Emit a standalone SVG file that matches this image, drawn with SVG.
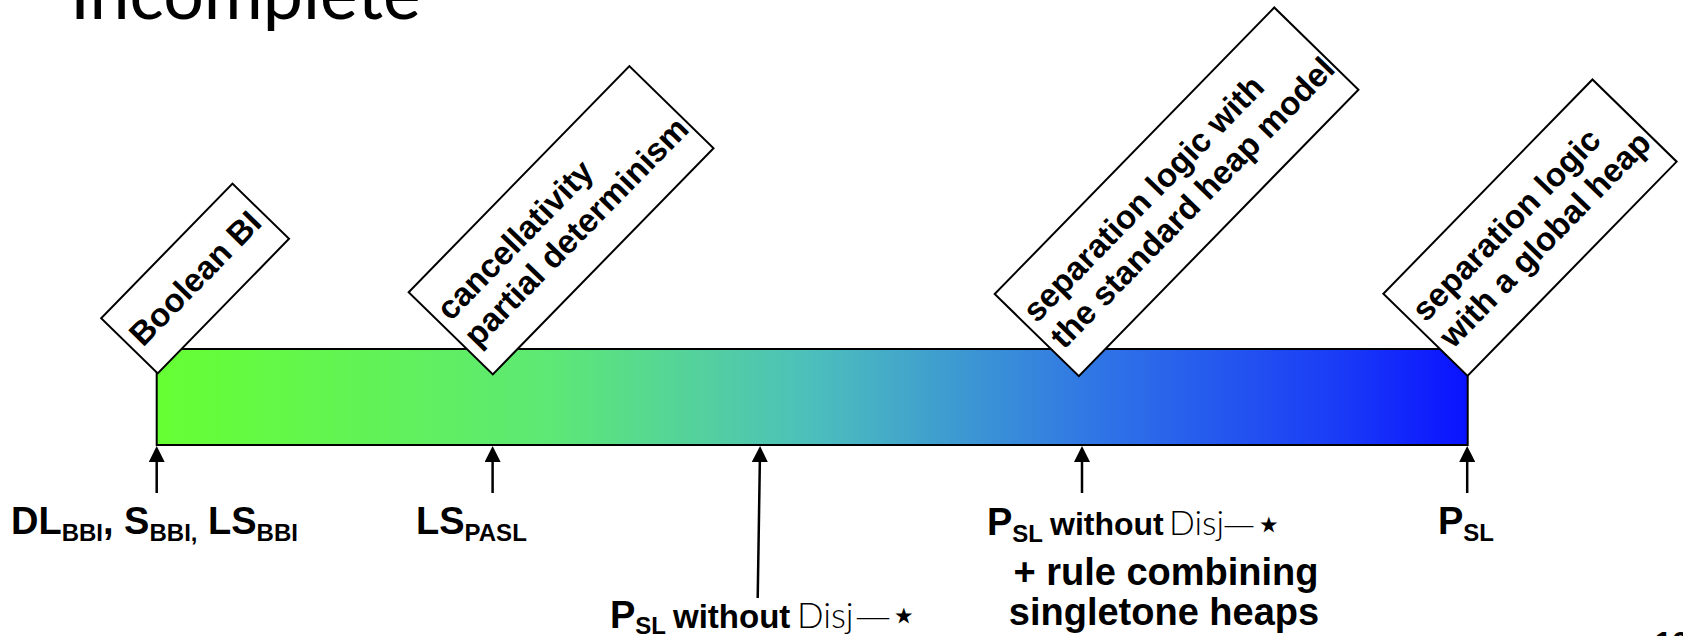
<svg xmlns="http://www.w3.org/2000/svg" width="1683" height="636" viewBox="0 0 1683 636">
<defs>
<linearGradient id="bar" x1="0" y1="0" x2="1" y2="0">
<stop offset="0" stop-color="#66FF33"/>
<stop offset="0.3" stop-color="#5DE875"/>
<stop offset="0.5" stop-color="#4CBFBC"/>
<stop offset="0.72" stop-color="#2F74E6"/>
<stop offset="0.9" stop-color="#1A3CF6"/>
<stop offset="1" stop-color="#0A12FF"/>
</linearGradient>
<marker id="ah" viewBox="0 0 16 16" refX="10" refY="8" markerWidth="16" markerHeight="16" markerUnits="userSpaceOnUse" orient="auto">
<path d="M0,0 L16,8 L0,16 z" fill="#000"/>
</marker>
<style>
.b{font-family:"Liberation Sans",Arial,sans-serif;font-weight:bold;font-size:38px;fill:#000}
.s{font-size:24px}
.wo1{font-size:33px}
.wo2{font-size:32px}
.pn{font-size:30px}
.bx rect{fill:#fff;stroke:#000;stroke-width:2}
.bx text{font-family:"Liberation Sans",Arial,sans-serif;font-weight:bold;font-size:33px;fill:#000}
.m{font-family:Lato,"DejaVu Sans",sans-serif;font-weight:300;font-size:35px;fill:#000}
.m2{font-size:34px}
.w{font-family:"DejaVu Sans",sans-serif;font-weight:200;font-size:36px;fill:#000}
.w2{font-size:32px}
.st{font-family:"DejaVu Sans",sans-serif;font-weight:200;font-size:44px;fill:#000}
.ar{stroke:#000;stroke-width:2.5;fill:none;marker-end:url(#ah)}
.t{font-family:Lato,"Open Sans",sans-serif;font-size:72px;fill:#000}
</style>
</defs>
<text class="t" x="70" y="19" textLength="351" lengthAdjust="spacingAndGlyphs">Incomplete</text>
<g id="bar-node">
<rect x="156.7" y="349" width="1311" height="96" fill="url(#bar)" stroke="#000" stroke-width="2"/>
</g>
<g id="box-boolean" class="bx" transform="translate(195.1,278.5) rotate(-45.7)">
<rect x="-94" y="-39.5" width="188" height="79"/>
<text x="-86" y="11">Boolean BI</text>
</g>
<g id="box-cancel" class="bx" transform="translate(561.1,220.2) rotate(-45.7)">
<rect x="-158" y="-58.8" width="316" height="117.6"/>
<text x="-150" y="-8">cancellativity</text>
<text x="-150" y="30">partial determinism</text>
</g>
<g id="box-standard" class="bx" transform="translate(1176.6,191.8) rotate(-45.7)">
<rect x="-200.2" y="-58.8" width="400.3" height="117.6"/>
<text x="-192" y="-8">separation logic with</text>
<text x="-192" y="30">the standard heap model</text>
</g>
<g id="box-global" class="bx" transform="translate(1530,227.7) rotate(-45.7)">
<rect x="-149.7" y="-58.8" width="299.4" height="117.6"/>
<text x="-141" y="-8">separation logic</text>
<text x="-141" y="30">with a global heap</text>
</g>
<g id="connectors">
<line class="ar" x1="156.7" y1="493" x2="156.7" y2="452"/>
<line class="ar" x1="492.6" y1="493" x2="492.6" y2="452"/>
<line class="ar" x1="757.7" y1="598" x2="760" y2="452"/>
<line class="ar" x1="1082" y1="493" x2="1082" y2="452"/>
<line class="ar" x1="1467.2" y1="493" x2="1467.2" y2="452"/>
</g>
<g id="label-bbi">
<text class="b" x="11" y="534">DL<tspan class="s" dy="7">BBI</tspan><tspan dy="-7">, S</tspan><tspan class="s" dy="7">BBI,</tspan><tspan dy="-7"> LS</tspan><tspan class="s" dy="7">BBI</tspan></text>
</g>
<g id="label-pasl">
<text class="b" x="416" y="534">LS<tspan class="s" dy="7">PASL</tspan></text>
</g>
<g id="label-mid">
<text class="b" x="610" y="628">P<tspan class="s" dy="6">SL</tspan></text>
<text class="b wo1" x="673" y="628">without</text>
<text class="m" x="797" y="628">Disj</text>
<text class="w" x="855" y="628">—</text>
<text class="st" x="890" y="630">⋆</text>
</g>
<g id="label-right">
<text class="b" x="987" y="535">P<tspan class="s" dy="7">SL</tspan></text>
<text class="b wo2" x="1050" y="535">without</text>
<text class="m m2" x="1169" y="535">Disj</text>
<text class="w w2" x="1223" y="535">—</text>
<text class="st" x="1255" y="539">⋆</text>
<text class="b" x="1166" y="585" text-anchor="middle">+ rule combining</text>
<text class="b" x="1164" y="625" text-anchor="middle">singletone heaps</text>
</g>
<g id="label-psl">
<text class="b" x="1438" y="534">P<tspan class="s" dy="7">SL</tspan></text>
</g>
<text class="b pn" x="1655" y="652">16</text>
</svg>
